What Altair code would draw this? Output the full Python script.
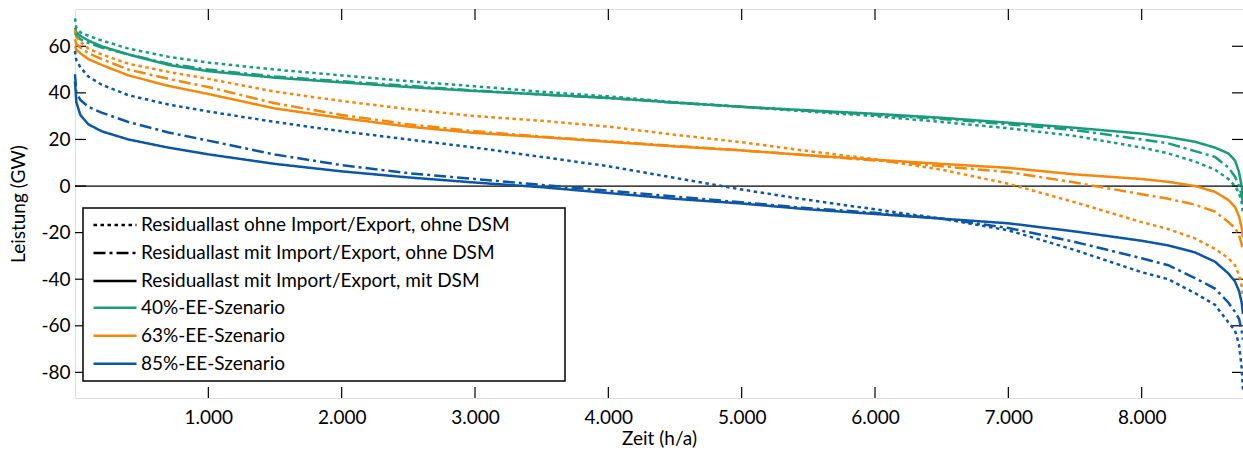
import altair as alt
import pandas as pd

hours = [0, 10, 40, 100, 200, 400, 700, 1000, 1500, 2000, 2500, 3000, 3500, 4000, 4500,
         5000, 5500, 6000, 6500, 7000, 7500, 8000, 8200, 8400, 8550, 8650, 8700, 8730, 8750, 8760]

# 40%-EE-Szenario
g_ohne = [72, 68, 66, 64.5, 62.5, 59, 55.5, 53, 50, 47.5, 45, 42.8, 40.5, 38.5, 36,
          34, 32, 30, 27.5, 24.8, 21.5, 16.5, 14, 10.5, 7, 3, 0, -3, -7, -12]
g_imp = [66, 64.5, 63, 61.5, 59.5, 56.5, 52.5, 50, 47, 45, 43, 41, 39.3, 37.8, 35.8,
         34, 32.3, 30.6, 28.8, 26.5, 24, 20, 18.3, 15, 12.5, 8, 4, 0, -4, -8]
g_dsm = [68, 66, 64.5, 62.5, 60, 56.5, 52, 49.3, 46.5, 44.5, 42.5, 40.8, 39.3, 37.8, 35.8,
         34, 32.5, 31, 29.3, 27.2, 25, 22.5, 21, 19, 16.5, 14, 11, 6, 0, -4]
# 63%-EE-Szenario
o_ohne = [67, 64, 62, 59, 56.5, 52.5, 49, 46, 40.5, 36.5, 33, 30, 28, 25.5, 22,
          18.8, 15, 11.5, 7, 1, -7, -15.5, -18.5, -22.5, -27, -31, -34, -38, -43, -48]
o_imp = [63, 61, 59.5, 57, 54.5, 50, 46, 42.5, 35.5, 30.5, 26.5, 23.5, 21.2, 19.2, 17.2,
         15.3, 13.2, 11, 8.5, 6, 1.5, -3.5, -5.5, -8, -11, -15.5, -18, -21, -25, -28]
o_dsm = [60, 58.5, 57, 54.5, 52, 47.5, 43, 39.5, 33.3, 29.2, 25.5, 22.8, 21, 19, 17,
         15.3, 13.2, 11.3, 9.5, 7.8, 5, 3, 1.8, 0, -2.5, -6, -9, -13, -18, -22]
# 85%-EE-Szenario
b_ohne = [58, 54, 51, 47, 43.5, 39, 35, 32, 27.5, 23.5, 20, 16.5, 12.5, 8.5, 3.5,
          -1.5, -6, -10, -14, -19, -27.5, -37, -40, -46, -51, -58.5, -62, -68, -78, -88]
b_imp = [48, 40, 37, 34, 31.5, 27.5, 23, 19.5, 13.5, 9, 5.5, 3, 0.5, -2, -4.5,
         -7, -9.5, -11.5, -14, -18, -24, -31, -34, -39.5, -44, -50, -54, -57, -62, -66]
b_dsm = [45, 36, 30.5, 26.5, 23.5, 20, 16.5, 13.6, 9.5, 6.3, 3.7, 1.5, -0.5, -3, -5.5,
         -7.5, -10, -12, -14, -16, -19.5, -23.5, -25.5, -28.5, -32.5, -37.5, -41, -45, -50, -55]

scenarios = ["40%-EE-Szenario", "63%-EE-Szenario", "85%-EE-Szenario"]
colors = ["#1a9c7c", "#f5870a", "#0d56a6"]
types = ["Residuallast ohne Import/Export, ohne DSM",
         "Residuallast mit Import/Export, ohne DSM",
         "Residuallast mit Import/Export, mit DSM"]
dashes = [[3.5, 3.5], [12, 4, 3, 4], [1, 0]]

y_ticks = [-80, -60, -40, -20, 0, 20, 40, 60]
x_ticks = [1000, 2000, 3000, 4000, 5000, 6000, 7000, 8000]

series = [
    (scenarios[0], types[0], g_ohne), (scenarios[0], types[1], g_imp), (scenarios[0], types[2], g_dsm),
    (scenarios[1], types[0], o_ohne), (scenarios[1], types[1], o_imp), (scenarios[1], types[2], o_dsm),
    (scenarios[2], types[0], b_ohne), (scenarios[2], types[1], b_imp), (scenarios[2], types[2], b_dsm),
]
rows = []
for scen, typ, vals in series:
    for h, v in zip(hours, vals):
        rows.append({"h": h, "v": v, "scen": scen, "typ": typ, "key": scen + typ})
df = pd.DataFrame(rows)

W, H = 1168, 389
FONT = "Lato"
xs = alt.Scale(domain=[0, 8760], nice=False, zero=False)
ys = alt.Scale(domain=[-91, 76], nice=False, zero=False)

box = alt.Chart(alt.Data(values=[{}])).mark_rect(
    fill="white", stroke="black", strokeWidth=1.5
).encode(x=alt.value(8), x2=alt.value(490), y=alt.value(199), y2=alt.value(372))

zero = alt.Chart(alt.Data(values=[{}])).mark_rule(color="black", strokeWidth=1.2).encode(
    y=alt.datum(0, scale=ys)
)

lines = alt.Chart(df).mark_line(strokeWidth=2.5).encode(
    x=alt.X("h:Q", scale=xs, axis=alt.Axis(
        values=x_ticks, title="Zeit (h/a)", ticks=False, domain=False, grid=False,
        labelExpr="replace(format(datum.value, ','), ',', '.')",
        labelFont=FONT, labelFontSize=19, labelPadding=10, labelColor="black",
        titleFont=FONT, titleFontSize=19, titleFontWeight="normal", titleColor="black",
        titleY=40, titleBaseline="middle")),
    y=alt.Y("v:Q", scale=ys, axis=alt.Axis(
        values=y_ticks, title="Leistung (GW)", ticks=False, domain=False, grid=False,
        labelExpr="toString(datum.value)",
        labelFont=FONT, labelFontSize=19, labelPadding=5, labelColor="black",
        titleFont=FONT, titleFontSize=19, titleFontWeight="normal", titleColor="black",
        titleX=-57, titleBaseline="middle")),
    color=alt.Color("scen:N", scale=alt.Scale(domain=scenarios, range=colors),
                    legend=alt.Legend(orient="none", legendX=17, legendY=284.7, title=None,
                                      symbolType="stroke", symbolSize=1849, symbolStrokeWidth=2.5,
                                      labelFont=FONT, labelFontSize=19, labelOffset=3,
                                      clipHeight=28, rowPadding=0, padding=0, labelLimit=0,
                                      labelColor="black")),
    strokeDash=alt.StrokeDash("typ:N", scale=alt.Scale(domain=types, range=dashes),
                              legend=alt.Legend(orient="none", legendX=17, legendY=202, title=None,
                                                symbolType="stroke", symbolSize=1849,
                                                symbolStrokeWidth=2.5, symbolStrokeColor="black",
                                                labelFont=FONT, labelFontSize=19, labelOffset=3,
                                                clipHeight=28, rowPadding=0, padding=0, labelLimit=0,
                                                labelColor="black")),
    detail="key:N",
)

left_t = alt.Chart(pd.DataFrame({"v": y_ticks})).mark_rule(color="black", strokeWidth=1.2).encode(
    y=alt.Y("v:Q", scale=ys), x=alt.value(0), x2=alt.value(11))
right_t = alt.Chart(pd.DataFrame({"v": y_ticks})).mark_rule(color="black", strokeWidth=1.2).encode(
    y=alt.Y("v:Q", scale=ys), x=alt.value(W - 11), x2=alt.value(W))
bot_t = alt.Chart(pd.DataFrame({"h": x_ticks})).mark_rule(color="black", strokeWidth=1.2).encode(
    x=alt.X("h:Q", scale=xs), y=alt.value(H - 11), y2=alt.value(H))
top_t = alt.Chart(pd.DataFrame({"h": x_ticks})).mark_rule(color="black", strokeWidth=1.2).encode(
    x=alt.X("h:Q", scale=xs), y=alt.value(0), y2=alt.value(11))

chart = alt.layer(zero, left_t, right_t, bot_t, top_t, lines, box).properties(
    width=W, height=H,
    autosize=alt.AutoSizeParams(type="none"),
    padding={"left": 75, "top": 9, "right": 0, "bottom": 52},
).configure_view(stroke="black", strokeWidth=1.8).configure(background="white")

chart.save("out.html", embed_options={"renderer": "svg", "actions": False})
